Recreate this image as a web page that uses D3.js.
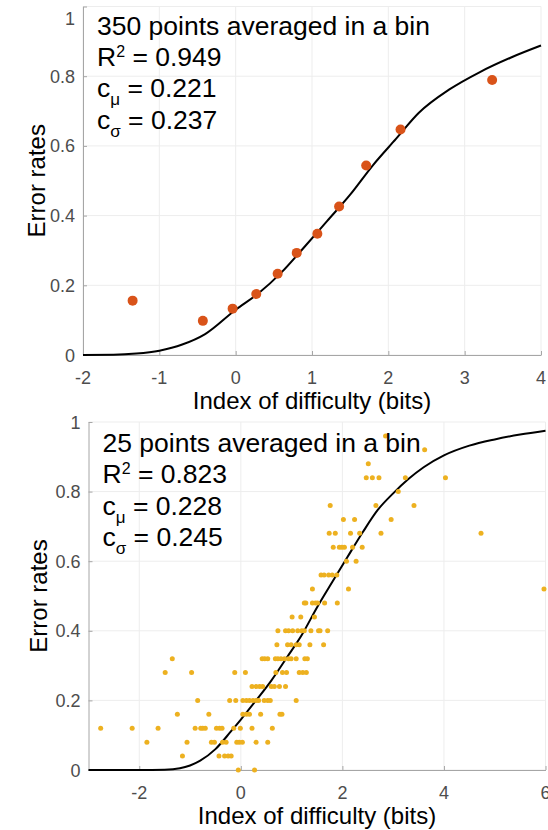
<!DOCTYPE html>
<html>
<head>
<meta charset="utf-8">
<script src="https://cdn.jsdelivr.net/npm/d3@7"></script>
<style>
  body { margin: 0; background: #fff; }
  svg { display: block; }
  text { font-family: "Liberation Sans", Arial, Helvetica, sans-serif; }
</style>
</head>
<body>
<svg id="chart" width="548" height="830"></svg>
<script>
// ---- data ----
// top panel: binned means (350 points per bin)
var topIds   = [-1.35, -0.43, -0.04, 0.27, 0.55, 0.80, 1.07, 1.355, 1.71, 2.16, 3.36];
var topRates = [0.156, 0.098, 0.133, 0.175, 0.233, 0.293, 0.348, 0.426, 0.544, 0.647, 0.789];

// fitted curve, top panel
var topCurveIds   = [-2, -1.6, -1.3, -1.0, -0.7, -0.4, 0, 0.3, 0.6, 0.9, 1.2, 1.5, 1.8, 2.1, 2.4, 2.8, 3.2, 3.6, 4];
var topCurveRates = [0, 0.0005, 0.004, 0.0125, 0.03, 0.06, 0.13, 0.177, 0.237, 0.31, 0.385, 0.46, 0.545, 0.62, 0.695, 0.762, 0.812, 0.853, 0.888];

// bottom panel: 25 points per bin, so rates come in steps of 1/25
var bottomLevels = [0, 0.04, 0.08, 0.12, 0.16, 0.20, 0.24, 0.28, 0.32, 0.36, 0.40, 0.44, 0.48,
                    0.52, 0.56, 0.60, 0.64, 0.68, 0.72, 0.76, 0.80, 0.84, 0.88, 0.92, 0.96];
var bottomIdsAtLevel = [
  [-0.05, 0.27],
  [-1.15, -0.43, -0.32, -0.25, -0.19],
  [-1.85, -1.06, -0.58, -0.52, -0.36, -0.29, -0.08, -0.03, 0.03, 0.30, 0.53],
  [-2.76, -2.14, -1.63, -0.90, -0.79, -0.75, -0.70, -0.48, -0.42, -0.37, -0.14, -0.01, 0.22, 0.62],
  [-1.25, -0.63, 0.04, 0.11, 0.17, 0.39, 0.77, 0.81],
  [-0.85, -0.22, -0.10, 0.04, 0.11, 0.17, 0.24, 0.30, 0.35, 0.46, 0.53, 0.58, 1.09],
  [0.22, 0.30, 0.37, 0.43, 0.60, 0.66, 0.76, 0.88],
  [-1.49, -0.97, -0.12, 0.09, 0.69, 0.82, 0.90, 1.15, 1.22, 1.29],
  [-1.35, 0.42, 0.47, 0.53, 0.68, 0.73, 0.79, 0.86, 0.94, 0.99, 1.09, 1.26, 1.31],
  [0.71, 0.92, 0.99, 1.09, 1.15, 1.36, 1.63],
  [0.73, 0.88, 0.94, 1.02, 1.12, 1.20, 1.25, 1.38, 1.53, 1.56, 1.71],
  [1.01, 1.18, 1.45],
  [1.25, 1.28, 1.41, 1.47, 1.51, 1.65, 1.90],
  [1.41, 2.12, 5.97],
  [1.58, 1.64, 1.73, 1.80, 1.89],
  [2.08, 2.27],
  [1.82, 1.94, 1.99, 2.04, 2.20, 2.39],
  [1.74, 1.86, 2.16, 2.34, 2.76, 4.73],
  [2.02, 2.24, 2.96],
  [1.76, 2.66, 3.41],
  [3.10],
  [2.47, 2.59, 2.72, 3.24, 4.03],
  [2.51],
  [3.62],
  [2.85]
];

// fitted curve, bottom panel
var bottomCurveIds   = [-3, -2, -1.5, -1.2, -1.0, -0.8, -0.5, -0.2, 0, 0.3, 0.6, 0.9, 1.2, 1.5, 1.8, 2.1, 2.4, 2.7, 3.0, 3.3, 3.6, 4.0, 4.5, 5.0, 5.5, 6];
var bottomCurveRates = [0, 0, 0.001, 0.005, 0.013, 0.027, 0.06, 0.11, 0.145, 0.20, 0.257, 0.322, 0.388, 0.467, 0.54, 0.612, 0.683, 0.748, 0.795, 0.836, 0.870, 0.904, 0.932, 0.950, 0.964, 0.975];

var topXTicks = [-2, -1, 0, 1, 2, 3, 4];
var bottomXTicks = [-2, 0, 2, 4, 6];
var yTicks = [0, 0.2, 0.4, 0.6, 0.8, 1];

var topText = ["350 points averaged in a bin", "0.949", "0.221", "0.237"];
var bottomText = ["25 points averaged in a bin", "0.823", "0.228", "0.245"];

// ---- drawing ----
var svg = d3.select("#chart");

function drawPanel(p) {
  var x = d3.scaleLinear().domain(p.xDomain).range(p.xRange);
  var y = d3.scaleLinear().domain([0, 1]).range(p.yRange);
  var g = svg.append("g");
  var left = p.xRange[0], right = p.xRange[1], bottom = p.yRange[0], top = p.yRange[1];

  // grid
  g.selectAll(".vgrid").data(p.xTicks).enter().append("line")
    .attr("x1", function (d) { return x(d); }).attr("x2", function (d) { return x(d); })
    .attr("y1", top).attr("y2", bottom)
    .attr("stroke", "#ededed").attr("stroke-width", 1);
  g.selectAll(".hgrid").data(yTicks).enter().append("line")
    .attr("x1", left).attr("x2", right)
    .attr("y1", function (d) { return y(d); }).attr("y2", function (d) { return y(d); })
    .attr("stroke", "#ededed").attr("stroke-width", 1);

  // axes (inward ticks)
  var xAxis = d3.axisBottom(x).tickValues(p.xTicks).tickSizeInner(-4).tickSizeOuter(0).tickFormat("");
  var yAxis = d3.axisLeft(y).tickValues(yTicks).tickSizeInner(-4).tickSizeOuter(0).tickFormat("");
  var gx = g.append("g").attr("transform", "translate(0," + bottom + ")").call(xAxis);
  var gy = g.append("g").attr("transform", "translate(" + left + ",0)").call(yAxis);
  [gx, gy].forEach(function (a) {
    a.selectAll("path, line").attr("stroke", "#a6a6a6").attr("stroke-width", 1);
  });

  // tick labels
  g.selectAll(".xlab").data(p.xTicks).enter().append("text")
    .attr("x", function (d) { return x(d); })
    .attr("y", bottom + 29)
    .attr("text-anchor", "middle")
    .attr("font-size", 18).attr("fill", "#4d4d4d")
    .text(function (d) { return d; });
  g.selectAll(".ylab").data(yTicks).enter().append("text")
    .attr("x", left - 8)
    .attr("y", function (d) { return Math.max(y(d), p.minLabelY) + 6.5; })
    .attr("text-anchor", "end")
    .attr("font-size", 18).attr("fill", "#4d4d4d")
    .text(function (d) { return d; });

  // axis titles
  g.append("text")
    .attr("x", (left + right) / 2).attr("y", bottom + 54)
    .attr("text-anchor", "middle").attr("font-size", 24).attr("fill", "#000")
    .text("Index of difficulty (bits)");
  g.append("text")
    .attr("transform", "translate(" + p.yTitleX + "," + (top + bottom) / 2 + ") rotate(-90)")
    .attr("text-anchor", "middle").attr("font-size", 24).attr("fill", "#000")
    .text("Error rates");

  // fitted curve
  var line = d3.line()
    .x(function (d) { return x(d[0]); })
    .y(function (d) { return y(d[1]); })
    .curve(d3.curveMonotoneX);
  g.append("path")
    .datum(d3.zip(p.curveIds, p.curveRates))
    .attr("d", line)
    .attr("fill", "none").attr("stroke", "#000").attr("stroke-width", 2);

  // points
  g.selectAll(".dot").data(p.points).enter().append("circle")
    .attr("cx", function (d) { return x(d[0]); })
    .attr("cy", function (d) { return y(d[1]); })
    .attr("r", p.dotR)
    .attr("fill", p.dotColor);

  // annotation
  var t = p.text, tx = left + 14, ty = p.textY, lh = 31.4;
  var fs = 26.5;
  g.append("text").attr("x", tx).attr("y", ty).attr("font-size", fs).text(t[0]);
  var r2 = g.append("text").attr("x", tx).attr("y", ty + lh).attr("font-size", fs);
  r2.append("tspan").text("R");
  r2.append("tspan").attr("font-size", 16).attr("dy", -9).text("2");
  r2.append("tspan").attr("dy", 9).text(" = " + t[1]);
  var cm = g.append("text").attr("x", tx).attr("y", ty + 2 * lh).attr("font-size", fs);
  cm.append("tspan").text("c");
  cm.append("tspan").attr("font-size", 17).attr("dy", 8).text("\u03bc");
  cm.append("tspan").attr("dy", -8).text(" = " + t[2]);
  var cs = g.append("text").attr("x", tx).attr("y", ty + 3 * lh).attr("font-size", fs);
  cs.append("tspan").text("c");
  cs.append("tspan").attr("font-size", 17).attr("dy", 8).text("\u03c3");
  cs.append("tspan").attr("dy", -8).text(" = " + t[3]);
}

var bottomPoints = [];
bottomLevels.forEach(function (lv, i) {
  bottomIdsAtLevel[i].forEach(function (id) { bottomPoints.push([id, lv]); });
});

drawPanel({
  xDomain: [-2, 4], xRange: [83, 541], yRange: [355, 6.5],
  xTicks: topXTicks, minLabelY: 18, yTitleX: 45,
  curveIds: topCurveIds, curveRates: topCurveRates,
  points: d3.zip(topIds, topRates), dotR: 5, dotColor: "#D95319",
  text: topText, textY: 34.5
});

drawPanel({
  xDomain: [-3, 6], xRange: [88.5, 545.5], yRange: [770, 422],
  xTicks: bottomXTicks, minLabelY: 0, yTitleX: 47,
  curveIds: bottomCurveIds, curveRates: bottomCurveRates,
  points: bottomPoints, dotR: 2.5, dotColor: "#EDB120",
  text: bottomText, textY: 452
});
</script>
</body>
</html>
